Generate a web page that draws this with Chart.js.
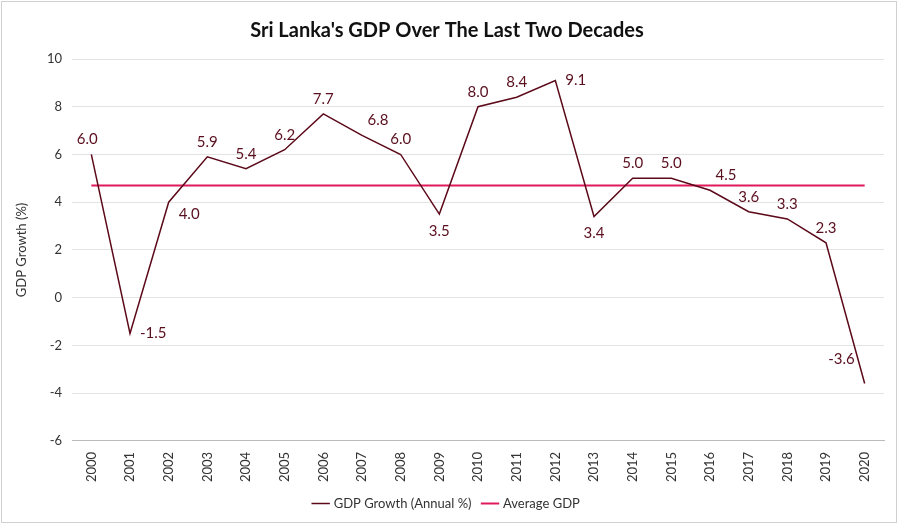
<!DOCTYPE html>
<html><head><meta charset="utf-8">
<script src="https://cdn.jsdelivr.net/npm/chart.js@4"></script>
<style>
html,body{margin:0;background:#fff}
#wrap{position:absolute;left:1px;top:1px;width:896px;height:522px;border:1px solid #d0d0d0;box-sizing:border-box}
</style></head>
<body><div id="wrap"><canvas id="c"></canvas></div>
<script>
// data
var years = ['2000','2001','2002','2003','2004','2005','2006','2007','2008','2009','2010',
             '2011','2012','2013','2014','2015','2016','2017','2018','2019','2020'];
var gdpGrowth = [6.0,-1.5,4.0,5.9,5.4,6.2,7.7,6.8,6.0,3.5,8.0,8.4,9.1,3.4,5.0,5.0,4.5,3.6,3.3,2.3,-3.6];
var avgGdp = 4.7;
// where each value label sits relative to its point
var labelPos = ['left','right','right','up','up','up','up','upright','up','down','up',
                'up','right','down','up','up','upright','up','up','up','upleft'];

var labelPlugin = {
    id: 'pointLabels',
    afterDatasetsDraw: function(chart) {
        var ctx = chart.ctx;
        var meta = chart.getDatasetMeta(0);
        ctx.save();
        ctx.font = '15px Lato';
        ctx.fillStyle = '#5a0f1e';
        ctx.textBaseline = 'middle';
        meta.data.forEach(function(pt, i) {
            var t = gdpGrowth[i].toFixed(1);
            var x = pt.x, y = pt.y, p = labelPos[i];
            ctx.textAlign = 'center';
            if (p === 'up') { y -= 15; }
            else if (p === 'down') { y += 17; }
            else if (p === 'right') { ctx.textAlign = 'left'; x += 10; y += (i === 2 ? 12 : 0); }
            else if (p === 'left') { y -= 15; x -= 4; }
            else if (p === 'upright') { x += 16; y -= 15; }
            else if (p === 'upleft') { ctx.textAlign = 'right'; x -= 10; y -= 24; }
            ctx.fillText(t, x, y);
        });
        ctx.restore();
    }
};

Chart.defaults.font.family = 'Lato';
Chart.defaults.color = '#333';

new Chart(document.getElementById('c'), {
    type: 'line',
    data: {
        labels: years,
        datasets: [{
            label: 'GDP Growth (Annual %)',
            data: gdpGrowth,
            borderColor: '#5c0a1a',
            backgroundColor: '#5c0a1a',
            borderWidth: 1.5,
            pointRadius: 0,
            tension: 0
        }, {
            label: 'Average GDP',
            data: years.map(function() { return avgGdp; }),
            borderColor: '#e0195a',
            backgroundColor: '#e0195a',
            borderWidth: 2,
            pointRadius: 0
        }]
    },
    options: {
        responsive: true,
        maintainAspectRatio: false,
        animation: false,
        layout: { padding: { left: 8, right: 12, top: 9, bottom: 2 } },
        plugins: {
            title: {
                display: true,
                text: "Sri Lanka's GDP Over The Last Two Decades",
                font: { size: 20, weight: 'bold' },
                color: '#111',
                padding: { top: 8, bottom: 16 }
            },
            legend: {
                position: 'bottom',
                labels: { usePointStyle: true, pointStyle: 'line', font: { size: 13 }, color: '#333', padding: 12 }
            },
            tooltip: { enabled: false }
        },
        scales: {
            x: {
                offset: true,
                grid: { display: false },
                border: { color: '#bbb' },
                ticks: { maxRotation: 90, minRotation: 90, font: { size: 13 }, color: '#333' }
            },
            y: {
                min: -6, max: 10,
                afterFit: function(s) { s.width = 62; },
                ticks: { stepSize: 2, font: { size: 13 }, color: '#333', padding: 10 },
                grid: { color: '#e3e3e3', drawTicks: false },
                border: { display: false },
                title: { display: true, text: 'GDP Growth (%)', font: { size: 13 }, color: '#333' }
            }
        }
    },
    plugins: [labelPlugin]
});
</script></body></html>
